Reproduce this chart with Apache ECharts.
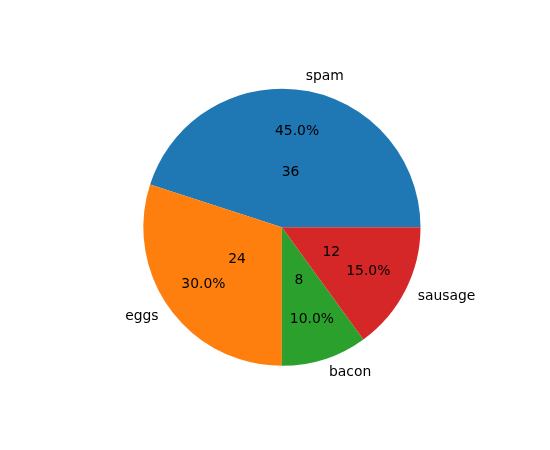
<!DOCTYPE html>
<html>
<head>
<meta charset="utf-8">
<script src="https://cdn.jsdelivr.net/npm/echarts@6/dist/echarts.min.js"></script>
<style>html,body{margin:0;padding:0;background:#fff}#c{width:550px;height:450px}</style>
</head>
<body>
<div id="c"></div>
<script>
const categories = ['spam', 'eggs', 'bacon', 'sausage'];
const values = [36, 24, 8, 12];
const colors = ['#1f77b4', '#ff7f0e', '#2ca02c', '#d62728'];

const total = values.reduce((a, b) => a + b, 0);
const R = 138.6;
const C = [281.9, 227.25];
const font = { fontFamily: 'DejaVu Sans', fontSize: 13.9, color: '#000' };

function mk(color) {
  return categories.map((n, i) => ({ name: n, value: values[i], itemStyle: { color: color || colors[i] } }));
}
const clear = 'rgba(0,0,0,0)';
const common = { type: 'pie', center: C, startAngle: 0, clockwise: false, animation: false, silent: true, emphasis: { disabled: true }, minShowLabelAngle: 0 };

const chart = echarts.init(document.getElementById('c'), null, { renderer: 'canvas' });
chart.setOption({
  backgroundColor: '#fff',
  series: [
    Object.assign({}, common, {
      radius: [0, R],
      data: mk(),
      avoidLabelOverlap: false,
      label: Object.assign({ show: true, position: 'outside', formatter: '{b}', distanceToLabelLine: 0 }, font),
      labelLine: { show: false, length: R * 0.1, length2: 0 }
    }),
    Object.assign({}, common, {
      radius: [R * 0.4 - 6, R],
      data: mk(clear),
      label: Object.assign({ show: true, position: 'inside', formatter: p => (p.value / total * 100).toFixed(1) + '%' }, font),
      labelLine: { show: false }
    }),
    Object.assign({}, common, {
      radius: [0, R * 0.8 - 6],
      data: mk(clear),
      label: Object.assign({ show: true, position: 'inside', formatter: p => String(p.value) }, font),
      labelLine: { show: false }
    })
  ]
});
</script>
</body>
</html>
